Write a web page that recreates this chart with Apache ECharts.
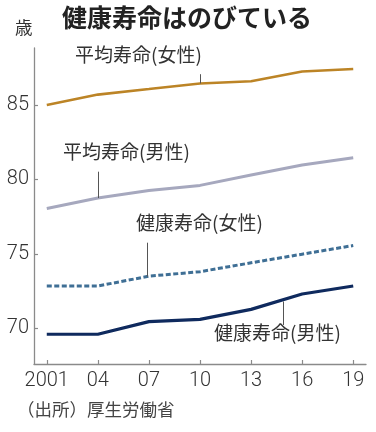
<!DOCTYPE html>
<html><head><meta charset="utf-8">
<script src="https://cdn.jsdelivr.net/npm/echarts@6/dist/echarts.min.js"></script>
<style>html,body{margin:0;padding:0;background:#fff}#c{width:376px;height:432px}</style>
</head><body><div id="c"></div>
<script>
const years = [2001, 2004, 2007, 2010, 2013, 2016, 2019];
const xTickLabels = ['2001', '04', '07', '10', '13', '16', '19'];
const yTicks = [70, 75, 80, 85];
const avgFemale = [85.0, 85.7, 86.07, 86.45, 86.6, 87.25, 87.42];
const avgMale = [78.05, 78.75, 79.25, 79.6, 80.3, 80.97, 81.45];
const healthyFemale = [72.84, 72.84, 73.5, 73.8, 74.4, 74.98, 75.56];
const healthyMale = [69.6, 69.6, 70.45, 70.6, 71.27, 72.3, 72.84];
const seriesNames = ['平均寿命(女性)', '平均寿命(男性)', '健康寿命(女性)', '健康寿命(男性)'];

const NUM = "'Liberation Sans Narrow','Roboto',sans-serif";
const JP = "'Noto Sans CJK JP',sans-serif";

function pairs(v){ return years.map((y,i)=>[y,v[i]]); }
function leader(x, y1, y2){
  return {silent:true, symbol:['none','none'], label:{show:false},
    lineStyle:{color:'#555', width:1, type:'solid'},
    data:[[{coord:[x,y1]},{coord:[x,y2]}]]};
}

const chart = echarts.init(document.getElementById('c'), null, {renderer:'canvas'});
chart.setOption({
  animation:false,
  backgroundColor:'#fff',
  grid:{left:34, right:10, top:48, bottom:68},
  xAxis:{type:'value', min:2000.25, max:2019.75,
    axisLine:{show:true, lineStyle:{color:'#8a8a8a', width:1.3}},
    axisTick:{show:true, inside:true, length:4, customValues:years, lineStyle:{color:'#8a8a8a', width:1.2}},
    axisLabel:{customValues:years, margin:7, fontFamily:NUM, fontWeight:300, fontSize:20, color:'#333',
      formatter:v=>xTickLabels[years.indexOf(Math.round(v))]},
    splitLine:{show:false}},
  yAxis:{type:'value', min:67.6, max:88.83,
    axisLine:{show:true, lineStyle:{color:'#8a8a8a', width:1.3}},
    axisTick:{show:true, inside:true, length:4, customValues:yTicks, lineStyle:{color:'#8a8a8a', width:1.2}},
    axisLabel:{customValues:yTicks, margin:5, fontFamily:NUM, fontWeight:300, fontSize:20, color:'#333'},
    splitLine:{show:false}},
  series:[
    {name:seriesNames[0], type:'line', data:pairs(avgFemale), showSymbol:false,
      lineStyle:{color:'#BC8426', width:2.6}, markLine:leader(2010, 86.45, 87.07)},
    {name:seriesNames[1], type:'line', data:pairs(avgMale), showSymbol:false,
      lineStyle:{color:'#A6A8BE', width:3}, markLine:leader(2004, 78.75, 80.52)},
    {name:seriesNames[2], type:'line', data:pairs(healthyFemale), showSymbol:false,
      lineStyle:{color:'#3F6F95', width:3, type:[5,2.5]}, markLine:leader(2006.93, 73.47, 75.75)},
    {name:seriesNames[3], type:'line', data:pairs(healthyMale), showSymbol:false,
      lineStyle:{color:'#0F2A5E', width:3.2}, markLine:leader(2014.9, 71.8, 70.22)}
  ],
  graphic:[
    {type:'text', left:62, top:5, style:{text:'健康寿命はのびている', fontFamily:JP, fontWeight:'bold', fontSize:25, fill:'#222'}},
    {type:'text', left:15, top:19, style:{text:'歳', fontFamily:JP, fontSize:17.5, fill:'#333'}},
    {type:'text', left:75, top:45, style:{text:seriesNames[0], fontFamily:JP, fontSize:19, fill:'#333'}},
    {type:'text', left:63, top:142, style:{text:seriesNames[1], fontFamily:JP, fontSize:19, fill:'#333'}},
    {type:'text', left:136, top:213, style:{text:seriesNames[2], fontFamily:JP, fontSize:19, fill:'#333'}},
    {type:'text', left:214, top:323, style:{text:seriesNames[3], fontFamily:JP, fontSize:19, fill:'#333'}},
    {type:'text', left:17, top:401, style:{text:'（出所）厚生労働省', fontFamily:JP, fontSize:17.5, fill:'#444'}}
  ]
});
</script></body></html>
